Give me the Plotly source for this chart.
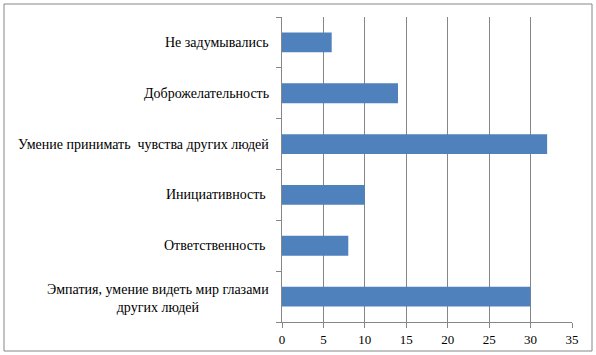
import plotly.graph_objects as go

categories = [
    "Эмпатия, умение видеть мир глазами другихлюдей",
    "Ответственность",
    "Инициативность",
    "Умение принимать чувства других людей",
    "Доброжелательность",
    "Не задумывались",
]
tick_labels = [
    "Эмпатия, умение видеть мир глазами<br>других людей",
    "Ответственность\u00a0",
    "Инициативность\u00a0",
    "Умение принимать\u00a0\u00a0чувства других людей",
    "Доброжелательность",
    "Не задумывались",
]
values = [30, 8, 10, 32, 14, 6]
x_ticks = [0, 5, 10, 15, 20, 25, 30, 35]

W, H = 596, 355
L, R, T, B = 282, 24, 17, 33
pw, ph = W - L - R, H - T - B

FONT = "Liberation Serif"

fig = go.Figure(go.Bar(
    x=values, y=categories, orientation="h",
    marker=dict(color="#4F81BD", line=dict(width=0)),
    width=0.39,
))

gray = "#868686"
fig.update_layout(
    template="none",
    width=W, height=H,
    margin=dict(l=L, r=R, t=T, b=B, pad=0),
    paper_bgcolor="white", plot_bgcolor="white",
    font=dict(family=FONT, size=14, color="black"),
    showlegend=False,
    xaxis=dict(
        range=[0, 35], tickvals=x_ticks, showgrid=True, gridcolor=gray, gridwidth=1,
        showline=True, linecolor=gray, linewidth=1,
        ticks="outside", ticklen=5, tickcolor=gray, zeroline=False,
        tickfont=dict(family=FONT, size=13, color="black"),
        fixedrange=True,
    ),
    yaxis=dict(
        categoryorder="array", categoryarray=categories,
        tickvals=categories, showticklabels=False,
        tickson="boundaries", ticks="outside", ticklen=5, tickcolor=gray,
        showline=True, linecolor=gray, linewidth=1, showgrid=False,
        fixedrange=True,
    ),
    shapes=[dict(
        type="rect", xref="paper", yref="paper",
        x0=(4 - L) / pw, x1=(592 - L) / pw,
        y0=(H - B - 351) / ph, y1=(H - B - 4) / ph,
        line=dict(color=gray, width=1), fillcolor="rgba(0,0,0,0)",
        layer="below",
    )],
)

for cat, lab in zip(categories, tick_labels):
    fig.add_annotation(
        x=0, y=cat, xref="paper", yref="y", xanchor="right", yanchor="middle",
        xshift=-11, yshift=-2 if "<br>" in lab else 0,
        text=lab, showarrow=False, align="center",
        font=dict(family=FONT, size=14, color="black"),
    )

fig.write_html("out.html")
